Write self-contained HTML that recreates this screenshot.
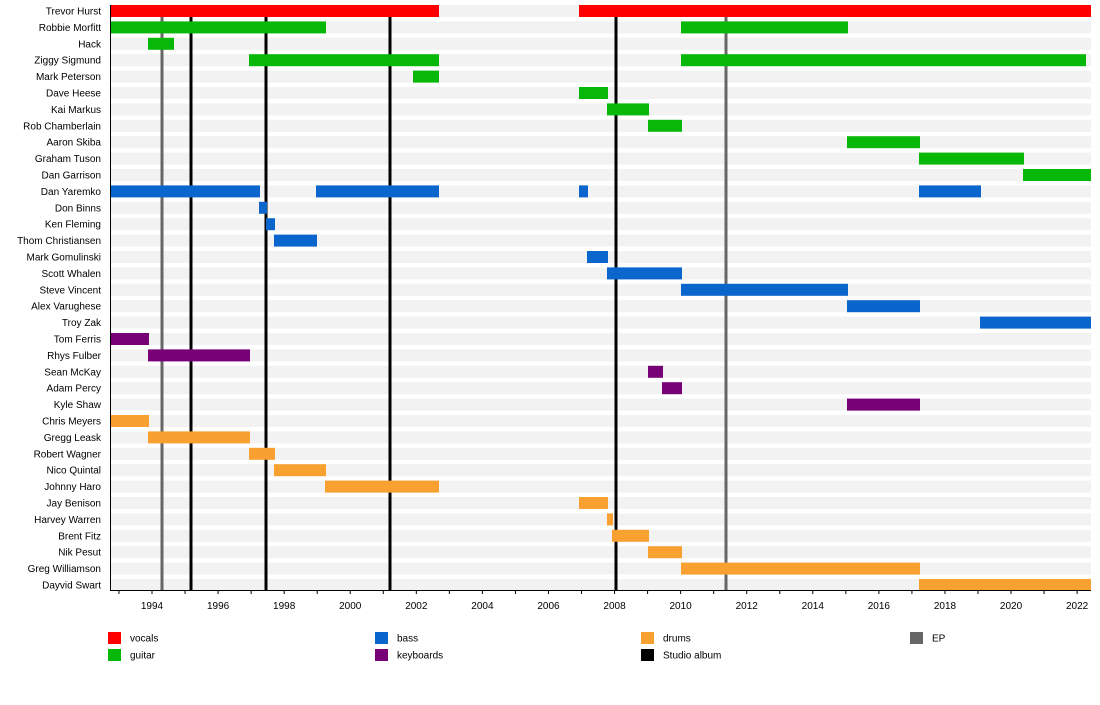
<!DOCTYPE html>
<html><head><meta charset="utf-8"><style>
body{margin:0;background:#fff}
svg text{font-family:"Liberation Sans",sans-serif;font-size:10px;fill:#000}
</style></head><body>
<svg width="1100" height="700" xmlns="http://www.w3.org/2000/svg">
<g id="stripes"></g>
<g id="lines"></g>
<g id="bars"></g>
<g id="labels"></g>
<g id="axis"></g>
<g id="legend"></g>
</svg>
<script>
const ns="http://www.w3.org/2000/svg";
function el(p,t,a,txt){const e=document.createElementNS(ns,t);for(const k in a)e.setAttribute(k,a[k]);if(txt)e.textContent=txt;document.getElementById(p).appendChild(e);return e;}
const C={v:"#ff0000",g:"#08b808",b:"#0a66cc",k:"#770077",d:"#f8a030"};
const rows=[
["Trevor Hurst","v",[[110,439],[579,1091]]],
["Robbie Morfitt","g",[[110,326],[681,848]]],
["Hack","g",[[148,174]]],
["Ziggy Sigmund","g",[[249,439],[681,1086]]],
["Mark Peterson","g",[[413,439]]],
["Dave Heese","g",[[579,608]]],
["Kai Markus","g",[[607,649]]],
["Rob Chamberlain","g",[[648,682]]],
["Aaron Skiba","g",[[847,920]]],
["Graham Tuson","g",[[919,1024]]],
["Dan Garrison","g",[[1023,1091]]],
["Dan Yaremko","b",[[110,260],[316,439],[579,588],[919,981]]],
["Don Binns","b",[[259,267]]],
["Ken Fleming","b",[[266,275]]],
["Thom Christiansen","b",[[274,317]]],
["Mark Gomulinski","b",[[587,608]]],
["Scott Whalen","b",[[607,682]]],
["Steve Vincent","b",[[681,848]]],
["Alex Varughese","b",[[847,920]]],
["Troy Zak","b",[[980,1091]]],
["Tom Ferris","k",[[110,149]]],
["Rhys Fulber","k",[[148,250]]],
["Sean McKay","k",[[648,663]]],
["Adam Percy","k",[[662,682]]],
["Kyle Shaw","k",[[847,920]]],
["Chris Meyers","d",[[110,149]]],
["Gregg Leask","d",[[148,250]]],
["Robert Wagner","d",[[249,275]]],
["Nico Quintal","d",[[274,326]]],
["Johnny Haro","d",[[325,439]]],
["Jay Benison","d",[[579,608]]],
["Harvey Warren","d",[[607,613]]],
["Brent Fitz","d",[[612,649]]],
["Nik Pesut","d",[[648,682]]],
["Greg Williamson","d",[[681,920]]],
["Dayvid Swart","d",[[919,1091]]]];
rows.forEach((r,i)=>{const cy=11+i*16.4;
el("stripes","rect",{x:110,y:cy-6,width:981,height:12,fill:"#f2f2f2"});
r[2].forEach(s=>el("bars","rect",{x:s[0],y:cy-6,width:s[1]-s[0],height:12,fill:C[r[1]]}));
el("labels","text",{x:101,y:cy+3.5,"text-anchor":"end"},r[0]);});
[[162,"#666"],[726,"#666"],[191,"#000"],[266,"#000"],[390,"#000"],[616,"#000"]].forEach(l=>el("lines","rect",{x:l[0]-1.5,y:5,width:3,height:585,fill:l[1]}));
el("axis","line",{x1:110,y1:590.5,x2:1091,y2:590.5,stroke:"#000","stroke-width":1});
el("axis","line",{x1:110.5,y1:5,x2:110.5,y2:591,stroke:"#000","stroke-width":1});
for(let y=1993;y<=2022;y++){const x=152+(y-1994)*33.04;
el("axis","line",{x1:x,y1:590,x2:x,y2:594,stroke:"#000","stroke-width":1});
if(y%2==0)el("axis","text",{x:x,y:609,"text-anchor":"middle"},String(y));}
[[108,638,C.v,"vocals"],[108,655,C.g,"guitar"],[375,638,C.b,"bass"],[375,655,C.k,"keyboards"],[641,638,C.d,"drums"],[641,655,"#000","Studio album"],[910,638,"#666","EP"]].forEach(l=>{
el("legend","rect",{x:l[0],y:l[1]-6,width:13,height:12,fill:l[2]});
el("legend","text",{x:l[0]+22,y:l[1]+3.5},l[3]);});
</script>
</body></html>
